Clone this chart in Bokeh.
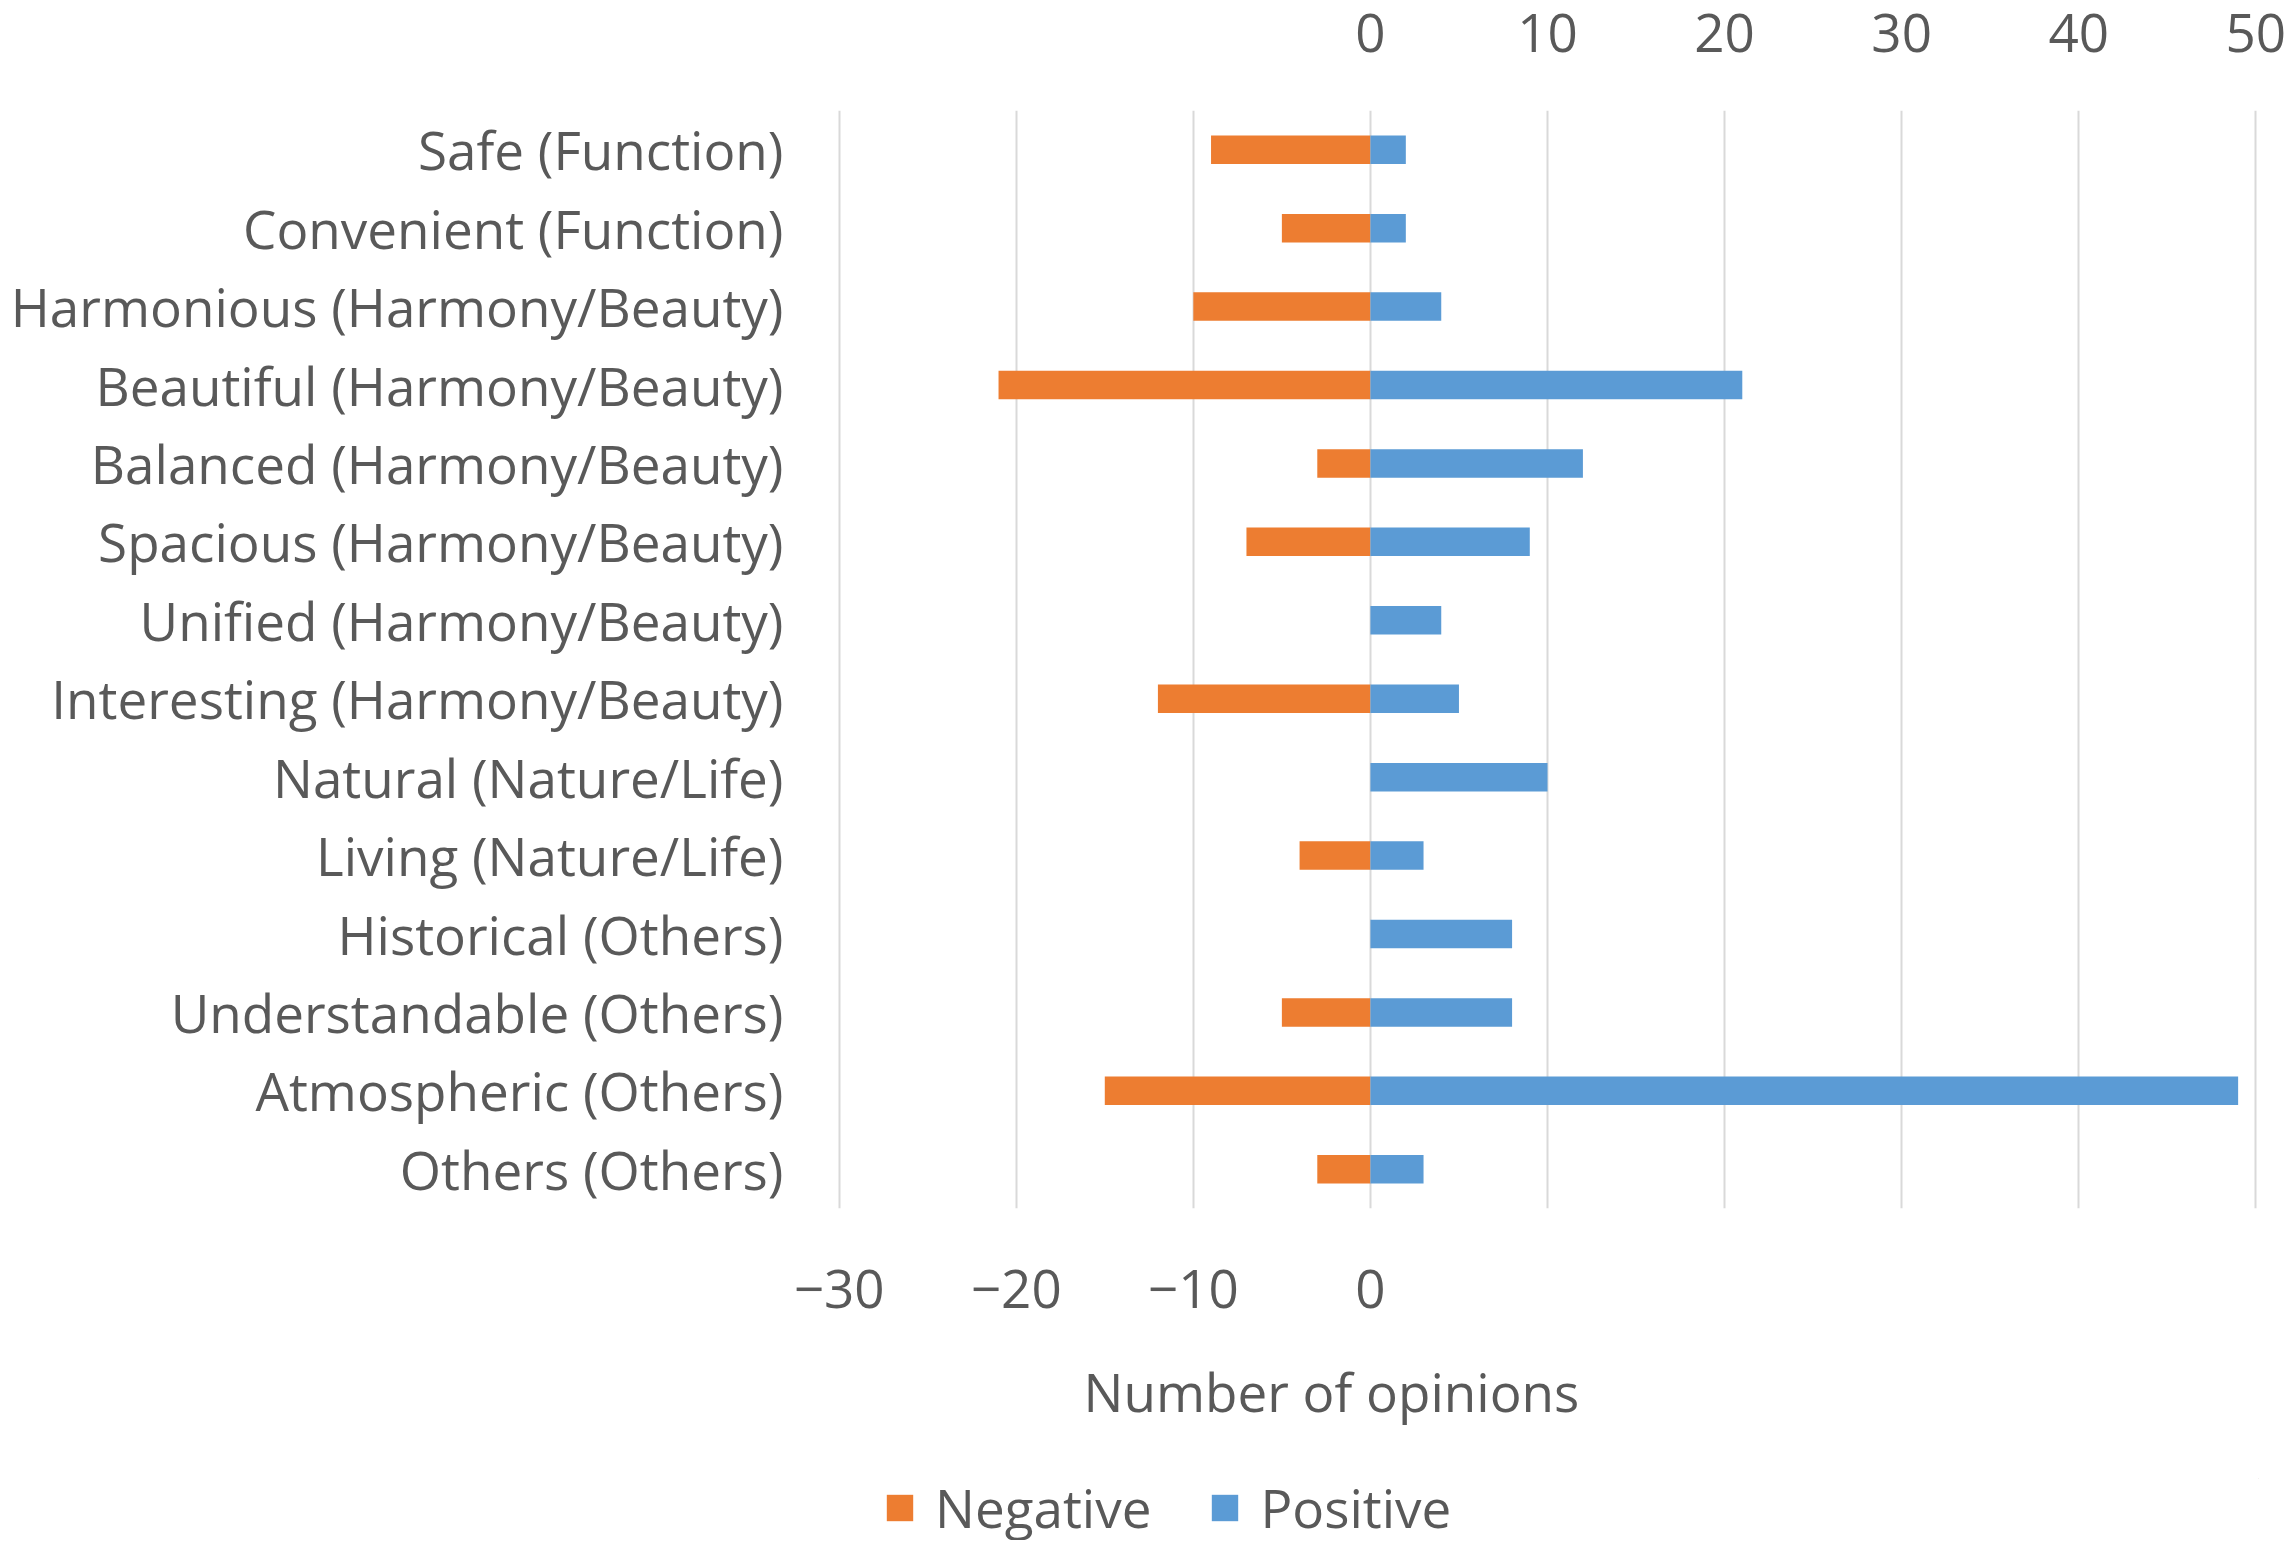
from bokeh.plotting import figure
from bokeh.layouts import column
from bokeh.models import (FactorRange, Range1d, LinearAxis, FixedTicker, Legend,
                          LegendItem, Title, ColumnDataSource, CustomJSTickFormatter)
from bokeh.embed import file_html
from bokeh.resources import INLINE

categories = [
    "Safe (Function)",
    "Convenient (Function)",
    "Harmonious (Harmony/Beauty)",
    "Beautiful (Harmony/Beauty)",
    "Balanced (Harmony/Beauty)",
    "Spacious (Harmony/Beauty)",
    "Unified (Harmony/Beauty)",
    "Interesting (Harmony/Beauty)",
    "Natural (Nature/Life)",
    "Living (Nature/Life)",
    "Historical (Others)",
    "Understandable (Others)",
    "Atmospheric (Others)",
    "Others (Others)",
]
negative = [-9, -5, -10, -21, -3, -7, 0, -12, 0, -4, 0, -5, -15, -3]
positive = [2, 2, 4, 21, 12, 9, 4, 5, 10, 3, 8, 8, 49, 3]
series_names = ["Negative", "Positive"]

bottom_ticks = [-30, -20, -10, 0]
top_ticks = [0, 10, 20, 30, 40, 50]
grid_ticks = [-30, -20, -10, 0, 10, 20, 30, 40, 50]

ORANGE = "#ED7D31"
BLUE = "#5B9BD5"
TEXT = "#595959"
FONT = "Open Sans"
FS = "53px"
W = 2287

src = ColumnDataSource(dict(cat=categories, neg=negative, pos=positive))

p = figure(width=W, height=1478,
           y_range=FactorRange(factors=list(reversed(categories))),
           x_range=Range1d(-30.15, 50.15),
           output_backend="svg", toolbar_location=None,
           min_border_left=836, min_border_right=29,
           min_border_top=110, min_border_bottom=270)
p.outline_line_color = None
p.background_fill_color = "white"
p.border_fill_color = "white"

p.hbar(y="cat", left="neg", right=0, height=0.363, source=src,
       fill_color=ORANGE, line_color=None)
p.hbar(y="cat", left=0, right="pos", height=0.363, source=src,
       fill_color=BLUE, line_color=None)

def style_axis(ax, standoff):
    ax.axis_line_color = None
    ax.major_tick_line_color = None
    ax.minor_tick_line_color = None
    ax.major_tick_in = 0
    ax.major_tick_out = 0
    ax.minor_tick_in = 0
    ax.minor_tick_out = 0
    ax.major_label_text_font = FONT
    ax.major_label_text_font_size = FS
    ax.major_label_text_color = TEXT
    ax.major_label_standoff = standoff

minus_fmt = CustomJSTickFormatter(code="return tick < 0 ? '\u2212' + (-tick) : '' + tick;")

xb = p.xaxis[0]
xb.ticker = FixedTicker(ticks=bottom_ticks)
xb.formatter = minus_fmt
style_axis(xb, 61)

xt = LinearAxis(ticker=FixedTicker(ticks=top_ticks))
style_axis(xt, 59)
p.add_layout(xt, "above")

style_axis(p.yaxis[0], 53)

p.ygrid.visible = False
p.xgrid.ticker = FixedTicker(ticks=grid_ticks)
p.xgrid.grid_line_color = "#D9D9D9"
p.xgrid.grid_line_width = 2

title = Title(text="Number of opinions", align="left", offset=247, standoff=84,
              text_font=FONT, text_font_size=FS, text_font_style="normal",
              text_color=TEXT)
p.add_layout(title, "below")

# legend strip below the chart (its frame is aligned with the chart's frame)
leg = figure(width=W, height=62, x_range=Range1d(0, 1), y_range=Range1d(0, 1),
             output_backend="svg", toolbar_location=None,
             min_border_left=0, min_border_right=0, min_border_top=0, min_border_bottom=0)
leg.axis.visible = False
leg.grid.visible = False
leg.outline_line_color = None
leg.background_fill_color = "white"
leg.border_fill_color = "white"
# swatch renderers placed outside the visible range; only their legend entries show
sw_neg = leg.hbar(y=[10], left=[10], right=[11], height=0.5, fill_color=ORANGE, line_color=None)
sw_pos = leg.hbar(y=[10], left=[10], right=[11], height=0.5, fill_color=BLUE, line_color=None)

legend = Legend(items=[LegendItem(label=series_names[0], renderers=[sw_neg]),
                       LegendItem(label=series_names[1], renderers=[sw_pos])],
                orientation="horizontal", location=(47, -4),
                glyph_width=33, glyph_height=33, label_standoff=19, spacing=57,
                padding=0, margin=0, border_line_color=None,
                background_fill_alpha=0,
                label_text_font=FONT, label_text_font_size=FS, label_text_color=TEXT)
leg.add_layout(legend)

layout = column(p, leg, spacing=0)
open("out.html", "w").write(file_html(layout, INLINE))
